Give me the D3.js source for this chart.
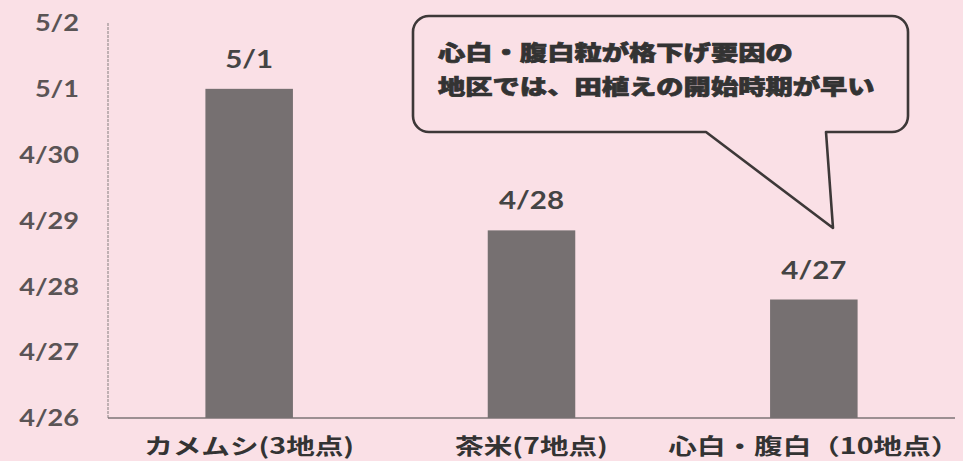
<!DOCTYPE html>
<html><head><meta charset="utf-8">
<script src="https://cdn.jsdelivr.net/npm/d3@7"></script>
<style>html,body{margin:0;padding:0;background:#fae0e6;overflow:hidden}</style>
</head><body>
<script>
const categories = ["カメムシ(3地点)", "茶米(7地点)", "心白・腹白（10地点）"];
const values = [5.0, 2.85, 1.8];            // days after 4/26
const valueLabels = ["5/1", "4/28", "4/27"];
const tickLabels = ["4/26", "4/27", "4/28", "4/29", "4/30", "5/1", "5/2"];
const calloutLines = ["心白・腹白粒が格下げ要因の", "地区では、田植えの開始時期が早い"];

const W = 963, H = 461, SX = 1.3, SXN = 1.18;
const svg = d3.select("body").append("svg").attr("width", W).attr("height", H);
svg.append("rect").attr("width", W).attr("height", H).attr("fill", "#fae0e6");

const x = d3.scaleBand().domain(categories).range([108, 955]).paddingInner(0.69).paddingOuter(0.345);
const y = d3.scaleLinear().domain([0, 6]).range([418, 23]);

// axes lines
svg.append("line").attr("x1", 108).attr("x2", 108).attr("y1", y(6)).attr("y2", y(0))
  .attr("stroke", "#9a9092").attr("stroke-width", 1.2).attr("stroke-dasharray", "3,1");
svg.append("line").attr("x1", 108).attr("x2", 955).attr("y1", y(0)).attr("y2", y(0))
  .attr("stroke", "#7d7576").attr("stroke-width", 1.6);

// y tick labels
svg.selectAll(".yt").data(tickLabels).enter().append("text")
  .attr("transform", (d, i) => `translate(79,${y(i) + 8.3}) scale(${SXN},1)`)
  .attr("text-anchor", "end")
  .attr("font-family", "Lato, 'Open Sans', sans-serif").attr("font-weight", 700)
  .attr("font-size", 23).attr("fill", "#5a5455").text(d => d);

// bars
svg.selectAll(".bar").data(values).enter().append("rect")
  .attr("x", (d, i) => x(categories[i])).attr("width", x.bandwidth())
  .attr("y", d => y(d)).attr("height", d => y(0) - y(d))
  .attr("fill", "#767071");

// value labels
svg.selectAll(".vl").data(values).enter().append("text")
  .attr("transform", (d, i) => `translate(${x(categories[i]) + x.bandwidth() / 2},${y(d) - 21}) scale(${SXN},1)`)
  .attr("text-anchor", "middle")
  .attr("font-family", "Lato, 'Open Sans', sans-serif").attr("font-weight", 700)
  .attr("font-size", 25).attr("fill", "#444").text((d, i) => valueLabels[i]);

// category labels
svg.selectAll(".cl").data(categories).enter().append("text")
  .attr("transform", d => `translate(${x(d) + x.bandwidth() / 2},454) scale(${SX},1)`)
  .attr("text-anchor", "middle")
  .attr("font-family", "'Noto Sans CJK JP', sans-serif").attr("font-weight", 700)
  .attr("font-size", 22).attr("fill", "#333").text(d => d);

// callout
const bx0 = 413, bx1 = 908, by0 = 16, by1 = 132, r = 16;
const tl = 706, tr = 826, tipX = 833, tipY = 228;
const p = d3.path();
p.moveTo(bx0 + r, by0);
p.lineTo(bx1 - r, by0);
p.arcTo(bx1, by0, bx1, by0 + r, r);
p.lineTo(bx1, by1 - r);
p.arcTo(bx1, by1, bx1 - r, by1, r);
p.lineTo(tr, by1);
p.lineTo(tipX, tipY);
p.lineTo(tl, by1);
p.lineTo(bx0 + r, by1);
p.arcTo(bx0, by1, bx0, by1 - r, r);
p.lineTo(bx0, by0 + r);
p.arcTo(bx0, by0, bx0 + r, by0, r);
p.closePath();
svg.append("path").attr("d", p.toString()).attr("fill", "#fae0e6")
  .attr("stroke", "#3d3838").attr("stroke-width", 2.6).attr("stroke-linejoin", "round");

svg.selectAll(".co").data(calloutLines).enter().append("text")
  .attr("transform", (d, i) => `translate(438,${60 + i * 34}) scale(${SX},1)`)
  .attr("font-family", "'Noto Sans CJK JP', sans-serif").attr("font-weight", 900)
  .attr("font-size", 21).attr("fill", "#333")
  .attr("stroke", "#333").attr("stroke-width", 0.7).attr("paint-order", "stroke")
  .text(d => d);
</script>
</body></html>
